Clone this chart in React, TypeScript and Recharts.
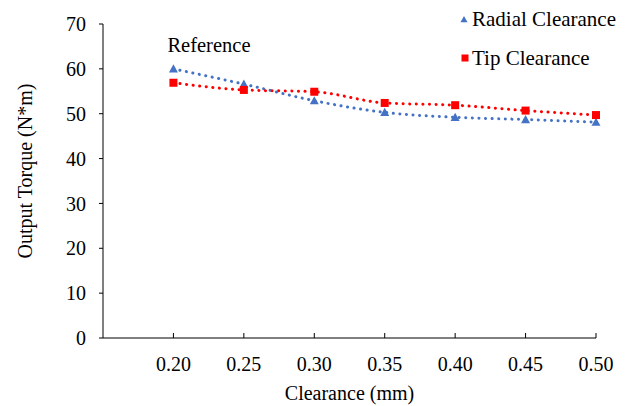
import React from "react";
import {
  ComposedChart,
  Line,
  XAxis,
  YAxis,
  Legend,
  ReferenceDot,
} from "recharts";

// Clearance sweep (mm) and output torque (N*m) per clearance type
const CLEARANCE = [0.2, 0.25, 0.3, 0.35, 0.4, 0.45, 0.5];
const RADIAL = [60.0, 56.6, 52.9, 50.3, 49.2, 48.7, 48.1];
const TIP = [56.9, 55.3, 54.9, 52.4, 51.9, 50.7, 49.7];

const X_TICKS = [0.2, 0.25, 0.3, 0.35, 0.4, 0.45, 0.5];
const Y_TICKS = [0, 10, 20, 30, 40, 50, 60, 70];
const SERIES_NAMES = ["Radial Clearance", "Tip Clearance"];

const BLUE = "#4472C4";
const RED = "#FF0000";
const INK = "#000000";
const FONT = '"Times New Roman", "Liberation Serif", serif';

const rows = CLEARANCE.map((c, i) => ({
  clearance: c,
  radial: RADIAL[i],
  tip: TIP[i],
}));

function Triangle({ cx, cy, size = 9, fill }: { cx: number; cy: number; size?: number; fill: string }) {
  const h = size / 2;
  return (
    <polygon
      points={`${cx},${cy - h} ${cx + h},${cy + h * 0.8} ${cx - h},${cy + h * 0.8}`}
      fill={fill}
    />
  );
}

function Square({ cx, cy, size = 8, fill }: { cx: number; cy: number; size?: number; fill: string }) {
  return <rect x={cx - size / 2} y={cy - size / 2} width={size} height={size} fill={fill} />;
}

// Legend sits over the top-right corner of the plot, markers left of names
const LegendBox = () => (
  <svg width={186} height={76} style={{ display: "block" }}>
    {SERIES_NAMES.map((name, i) => {
      const cy = 19.5 + i * 38.5;
      return (
        <g key={name}>
          {i === 0 ? (
            <Triangle cx={9} cy={cy} size={7} fill={BLUE} />
          ) : (
            <Square cx={10} cy={cy} size={7} fill={RED} />
          )}
          <text x={17} y={cy + 6.8} fontFamily={FONT} fontSize={21} fill={INK}>
            {name}
          </text>
        </g>
      );
    })}
  </svg>
);

const YTitle = ({ viewBox }: any) => {
  const x = 25;
  const y = viewBox.y + viewBox.height / 2 - 10;
  return (
    <text
      x={x}
      y={y}
      transform={`rotate(-90 ${x} ${y})`}
      textAnchor="middle"
      dominantBaseline="central"
      fontFamily={FONT}
      fontSize={20}
      fill={INK}
    >
      Output Torque (N*m)
    </text>
  );
};

const XTitle = ({ viewBox }: any) => (
  <text
    x={viewBox.x + viewBox.width / 2}
    y={400}
    textAnchor="middle"
    fontFamily={FONT}
    fontSize={20}
    fill={INK}
  >
    Clearance (mm)
  </text>
);

const dotStyle = {
  strokeWidth: 3,
  strokeDasharray: "0.1 6.5",
  strokeLinecap: "round" as const,
};

export default function App() {
  return (
    <div style={{ position: "absolute", left: 0, top: 0 }}>
      <ComposedChart
        width={641}
        height={406}
        data={rows}
        margin={{ top: 24, right: 45, bottom: 0, left: 0 }}
      >
        <XAxis
          type="number"
          dataKey="clearance"
          domain={[0.15, 0.5]}
          ticks={X_TICKS}
          tickFormatter={(v: number) => v.toFixed(2)}
          height={68}
          tickSize={-5}
          tickMargin={24}
          axisLine={{ stroke: INK }}
          tickLine={{ stroke: INK }}
          tick={{ fill: INK, fontSize: 20, fontFamily: FONT }}
          label={<XTitle />}
        />
        <YAxis
          type="number"
          domain={[0, 70]}
          ticks={Y_TICKS}
          width={103}
          tickSize={4}
          tickMargin={13}
          axisLine={{ stroke: INK }}
          tickLine={{ stroke: INK }}
          tick={{ fill: INK, fontSize: 20, fontFamily: FONT }}
          label={<YTitle />}
        />
        <Line
          dataKey="radial"
          name={SERIES_NAMES[0]}
          type="monotone"
          stroke={BLUE}
          {...dotStyle}
          dot={(p: any) => <Triangle key={p.index} cx={p.cx} cy={p.cy} fill={BLUE} />}
          activeDot={false}
          isAnimationActive={false}
        />
        <Line
          dataKey="tip"
          name={SERIES_NAMES[1]}
          type="monotone"
          stroke={RED}
          {...dotStyle}
          dot={(p: any) => <Square key={p.index} cx={p.cx} cy={p.cy} fill={RED} />}
          activeDot={false}
          isAnimationActive={false}
        />
        <ReferenceDot
          x={CLEARANCE[0]}
          y={RADIAL[0]}
          r={0}
          fill="none"
          stroke="none"
          label={({ viewBox }: any) => (
            <text
              x={viewBox.x - 6}
              y={viewBox.y - 17}
              fontFamily={FONT}
              fontSize={20.5}
              fill={INK}
            >
              Reference
            </text>
          )}
        />
        <Legend
          layout="horizontal"
          align="center"
          verticalAlign="middle"
          wrapperStyle={{ left: 455, top: 0, width: 186 }}
          content={() => <LegendBox />}
        />
      </ComposedChart>
    </div>
  );
}
